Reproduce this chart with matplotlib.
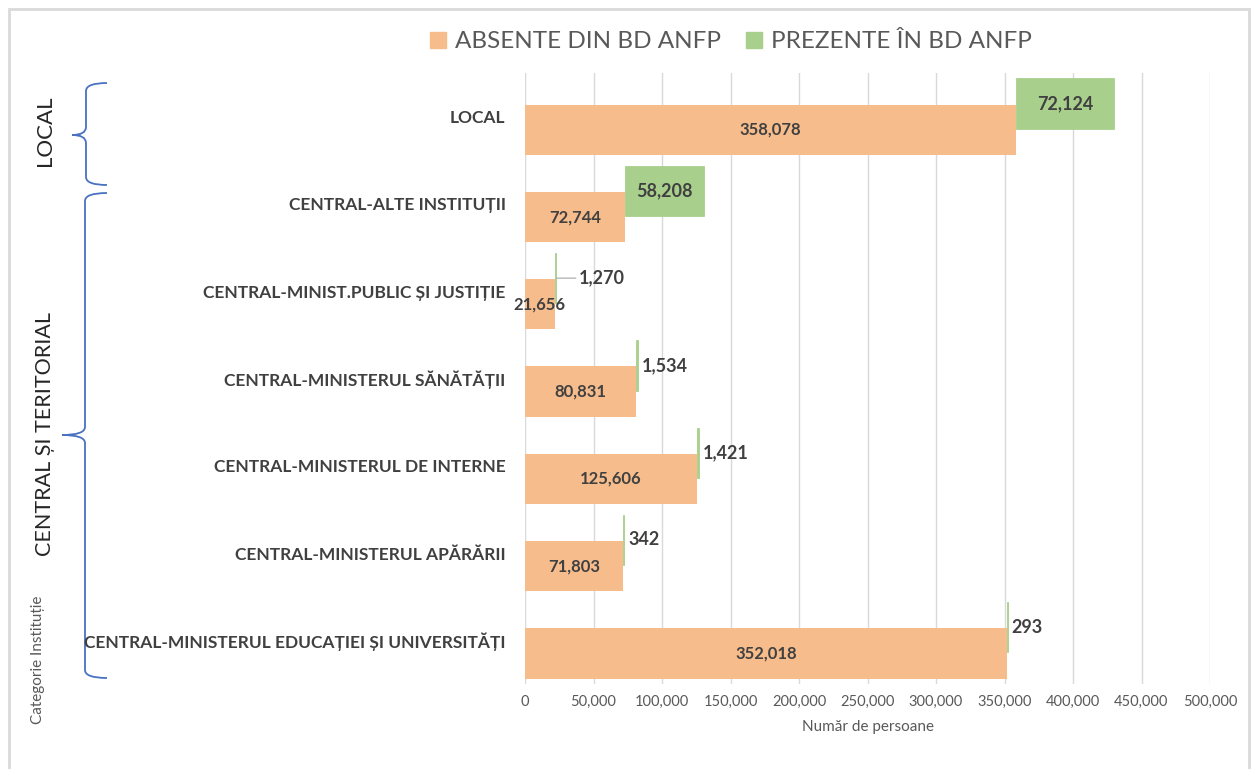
import matplotlib
matplotlib.use("Agg")
import matplotlib.pyplot as plt
from matplotlib.path import Path
from matplotlib.patches import PathPatch
from matplotlib.ticker import FuncFormatter, MultipleLocator

categories = [
    "LOCAL",
    "CENTRAL-ALTE INSTITUȚII",
    "CENTRAL-MINIST.PUBLIC ȘI JUSTIȚIE",
    "CENTRAL-MINISTERUL SĂNĂTĂȚII",
    "CENTRAL-MINISTERUL DE INTERNE",
    "CENTRAL-MINISTERUL APĂRĂRII",
    "CENTRAL-MINISTERUL EDUCAȚIEI ȘI UNIVERSITĂȚI",
]
absente = [358078, 72744, 21656, 80831, 125606, 71803, 352018]
prezente = [72124, 58208, 1270, 1534, 1421, 342, 293]
series_names = ["ABSENTE DIN BD ANFP", "PREZENTE ÎN BD ANFP"]
x_label = "Număr de persoane"
y_label = "Categorie Instituție"
group_labels = ["LOCAL", "CENTRAL ȘI TERITORIAL"]

ORANGE = "#F6BC8C"
GREEN = "#A9CF8C"
TXT = "#404040"
GREY = "#595959"
FONT = "Lato"

W, H = 1254, 769
fig = plt.figure(figsize=(W / 100, H / 100), dpi=100)
fig.patch.set_facecolor("white")

# axes in pixel placement
x0, x1, ytop, ybot = 525, 1210, 73, 684
ax = fig.add_axes([x0 / W, 1 - ybot / H, (x1 - x0) / W, (ybot - ytop) / H])

ypos = list(range(len(categories)))
off = 0.15
h = 0.575
ax.barh([y + off for y in ypos], absente, height=h, color=ORANGE, zorder=3)
ax.barh([y - off for y in ypos], prezente, left=absente, height=h, color=GREEN,
        edgecolor=GREEN, linewidth=0.6, zorder=3)

ax.set_xlim(0, 500000)
ax.set_ylim(len(categories) - 0.5, -0.5)
ax.xaxis.set_major_locator(MultipleLocator(50000))
ax.xaxis.set_major_formatter(FuncFormatter(lambda v, p: f"{int(v):,}"))
ax.grid(axis="x", color="#D9D9D9", lw=1.0, zorder=0)
for s in ["top", "right", "bottom", "left"]:
    ax.spines[s].set_visible(False)
ax.tick_params(axis="x", length=0, pad=8, labelsize=10.5, labelcolor=GREY)
for t in ax.get_xticklabels():
    t.set_fontfamily(FONT)
ax.set_yticks(ypos)
ax.set_yticklabels(categories, fontfamily=FONT, fontweight="bold", fontsize=12.5, color=TXT)
ax.tick_params(axis="y", length=0, pad=14)
ax.set_xlabel(x_label, fontfamily=FONT, fontsize=11, color=GREY, labelpad=8)

# value labels
for i, (a, p) in enumerate(zip(absente, prezente)):
    ax.text(a / 2, i + off, f"{a:,}", ha="center", va="center", fontfamily=FONT,
            fontweight="bold", fontsize=12, color=TXT, zorder=5)
    if p > 20000:
        ax.text(a + p / 2, i - off, f"{p:,}", ha="center", va="center", fontfamily=FONT,
                fontweight="bold", fontsize=13, color=TXT, zorder=5)
    else:
        dx = 16 if i == 2 else 3
        ax.annotate(f"{p:,}", xy=(a + p, i - off), xytext=(dx, 0), textcoords="offset points",
                    ha="left", va="center", fontfamily=FONT, fontweight="bold", fontsize=13,
                    color=TXT, zorder=5,
                    arrowprops=dict(arrowstyle="-", color="#A6A6A6", lw=0.8, shrinkA=0, shrinkB=0)
                    if i == 2 else None)

# legend
handles = [plt.Rectangle((0, 0), 1, 1, color=ORANGE), plt.Rectangle((0, 0), 1, 1, color=GREEN)]
leg = fig.legend(handles, series_names, loc="center", bbox_to_anchor=(731 / W, 1 - 42 / H),
                 ncol=2, frameon=False, prop={"family": FONT, "size": 17.5},
                 handlelength=0.65, handleheight=0.65, handletextpad=0.4, columnspacing=1.0)
for t in leg.get_texts():
    t.set_color(GREY)

# overlay for braces, group labels and frame
ov = fig.add_axes([0, 0, 1, 1], zorder=-1)
ov.set_xlim(0, W)
ov.set_ylim(H, 0)
ov.axis("off")
ov.patch.set_alpha(0)


def brace(xv, xe, xt, top, mid, bot, r=8):
    verts = [(xe, top), (xv, top), (xv, top + r),
             (xv, mid - r), (xv, mid), (xt, mid),
             (xv, mid), (xv, mid + r),
             (xv, bot - r), (xv, bot), (xe, bot)]
    codes = [Path.MOVETO, Path.CURVE3, Path.CURVE3,
             Path.LINETO, Path.CURVE3, Path.CURVE3,
             Path.CURVE3, Path.CURVE3,
             Path.LINETO, Path.CURVE3, Path.CURVE3]
    ov.add_patch(PathPatch(Path(verts, codes), fill=False, ec="#4A72C0", lw=1.3))


brace(86, 107, 72, 83, 135, 185)
brace(85, 107, 62, 193, 435, 678)

ov.text(45, 131, group_labels[0], rotation=90, ha="center", va="center",
        fontfamily=FONT, fontsize=16, color="#262626")
ov.text(45, 434, group_labels[1], rotation=90, ha="center", va="center",
        fontfamily=FONT, fontsize=15.5, color="#262626")
ov.text(38, 660, y_label, rotation=90, ha="center", va="center",
        fontfamily=FONT, fontsize=11, color=GREY)

ov.plot([9, 9, 1249, 1249], [H, 9, 9, H], color="#D9D9D9", lw=2, solid_joinstyle="miter")

fig.savefig("out.png", dpi=100, facecolor="white")
